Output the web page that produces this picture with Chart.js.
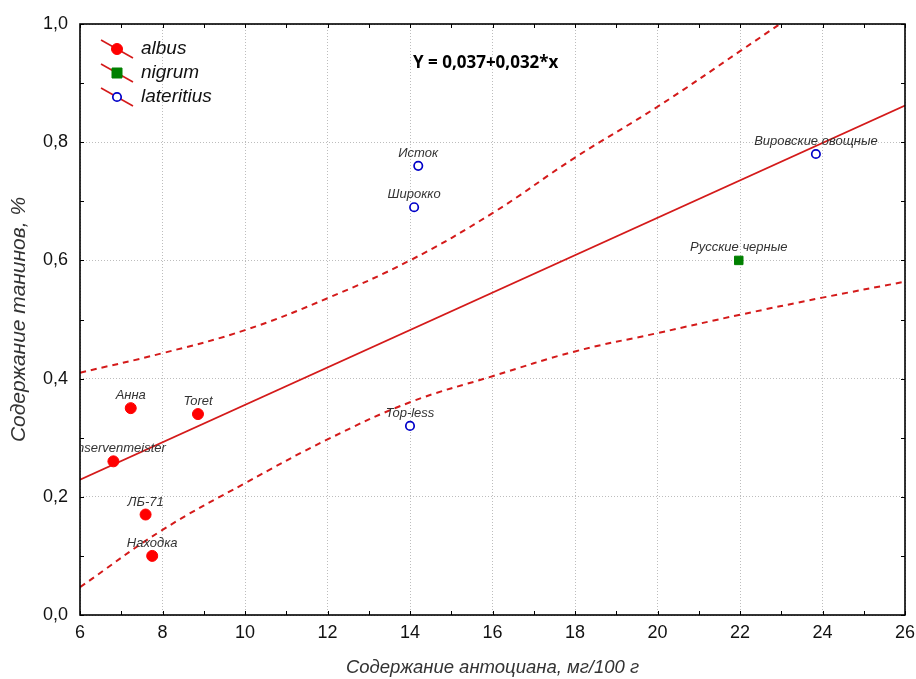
<!DOCTYPE html>
<html lang="ru">
<head>
    <meta charset="UTF-8">
    <title>Танины и антоцианы</title>
    <script src="https://cdn.jsdelivr.net/npm/chart.js"></script>
    <style>
        body {
            margin: 0;
            background: #fff;
        }
        .chart-container {
            width: 916px;
            height: 679px;
        }
    </style>
</head>
<body>

    <div class="chart-container">
        <canvas id="tanninChart"></canvas>
    </div>

    <script>
        // data
        const albusX = [7.23, 8.86, 6.81, 7.59, 7.75];
        const albusY = [0.35, 0.34, 0.26, 0.17, 0.10];
        const albusNames = ["Анна", "Toret", "Konservenmeister", "ЛБ-71", "Находка"];

        const nigrumX = [21.97];
        const nigrumY = [0.60];
        const nigrumNames = ["Русские черные"];

        const lateritiusX = [14.2, 14.1, 14.0, 23.84];
        const lateritiusY = [0.76, 0.69, 0.32, 0.78];
        const lateritiusNames = ["Исток", "Широкко", "Top-less", "Вировские овощные"];

        const fitX = [6, 26];
        const fitY = [0.229, 0.862];

        const bandX = [6, 8, 10, 12, 14, 16, 18, 20, 22, 24, 26];
        const upperY = [0.410, 0.443, 0.482, 0.536, 0.600, 0.680, 0.774, 0.860, 0.954, 1.05, 1.15];
        const lowerY = [0.047, 0.144, 0.223, 0.297, 0.360, 0.404, 0.446, 0.477, 0.508, 0.537, 0.564];

        const xTicks = [6, 8, 10, 12, 14, 16, 18, 20, 22, 24, 26];
        const yTicks = [0.0, 0.2, 0.4, 0.6, 0.8, 1.0];

        const lineRed = "#d41a1a";
        const font = "'Liberation Sans', Arial, sans-serif";

        const pts = (xs, ys) => xs.map((x, i) => ({ x: x, y: ys[i] }));

        // inward ticks, frame, point labels, legend and equation
        const decorPlugin = {
            id: "decor",
            afterDatasetsDraw(chart) {
                const ctx = chart.ctx;
                const a = chart.chartArea;
                const xs = chart.scales.x;
                const ys = chart.scales.y;

                ctx.save();
                ctx.strokeStyle = "#000";
                ctx.lineWidth = 1;
                xs.ticks.forEach(t => {
                    const px = Math.round(xs.getPixelForValue(t.value)) + 0.5;
                    ctx.beginPath();
                    ctx.moveTo(px, a.bottom); ctx.lineTo(px, a.bottom - 4);
                    ctx.moveTo(px, a.top); ctx.lineTo(px, a.top + 4);
                    ctx.stroke();
                });
                ys.ticks.forEach(t => {
                    const py = Math.round(ys.getPixelForValue(t.value)) + 0.5;
                    ctx.beginPath();
                    ctx.moveTo(a.left, py); ctx.lineTo(a.left + 4, py);
                    ctx.moveTo(a.right, py); ctx.lineTo(a.right - 4, py);
                    ctx.stroke();
                });
                ctx.lineWidth = 1.6;
                ctx.strokeRect(a.left, a.top, a.right - a.left, a.bottom - a.top);

                // point labels
                ctx.beginPath();
                ctx.rect(a.left, a.top, a.right - a.left, a.bottom - a.top);
                ctx.clip();
                ctx.font = "italic 13px " + font;
                ctx.fillStyle = "#333";
                ctx.textAlign = "center";
                ctx.textBaseline = "alphabetic";
                chart.data.datasets.forEach((ds, di) => {
                    if (!ds.names) return;
                    chart.getDatasetMeta(di).data.forEach((el, i) => {
                        ctx.fillText(ds.names[i], el.x, el.y - 9);
                    });
                });
                ctx.restore();

                // legend
                ctx.save();
                chart.data.datasets.forEach((ds, di) => {
                    if (!ds.names) return;
                    const cx = a.left + 37;
                    const cy = a.top + 25 + di * 24;
                    ctx.strokeStyle = lineRed;
                    ctx.lineWidth = 1.6;
                    ctx.beginPath();
                    ctx.moveTo(cx - 16, cy - 9);
                    ctx.lineTo(cx + 16, cy + 9);
                    ctx.stroke();
                    ctx.fillStyle = ds.pointBackgroundColor;
                    ctx.strokeStyle = ds.pointBorderColor;
                    ctx.lineWidth = ds.pointBorderWidth;
                    ctx.beginPath();
                    if (ds.pointStyle === "rect") {
                        ctx.rect(cx - 5, cy - 5, 10, 10);
                    } else {
                        ctx.arc(cx, cy, ds.pointRadius, 0, Math.PI * 2);
                    }
                    ctx.fill();
                    ctx.stroke();
                    ctx.fillStyle = "#111";
                    ctx.font = "italic 19px " + font;
                    ctx.textAlign = "left";
                    ctx.textBaseline = "middle";
                    ctx.fillText(ds.label, a.left + 61, cy);
                });

                ctx.fillStyle = "#000";
                ctx.font = "bold 17px 'Open Sans', sans-serif";
                ctx.textAlign = "left";
                ctx.textBaseline = "middle";
                ctx.fillText("Y = 0,037+0,032*x", a.left + 333, a.top + 39);
                ctx.restore();
            }
        };

        new Chart(document.getElementById("tanninChart"), {
            type: "scatter",
            data: {
                datasets: [{
                    label: "albus",
                    names: albusNames,
                    data: pts(albusX, albusY),
                    pointStyle: "circle",
                    pointRadius: 5.5,
                    pointBackgroundColor: "#ff0000",
                    pointBorderColor: "#ff0000",
                    pointBorderWidth: 1
                }, {
                    label: "nigrum",
                    names: nigrumNames,
                    data: pts(nigrumX, nigrumY),
                    pointStyle: "rect",
                    pointRadius: 6,
                    pointBackgroundColor: "#008000",
                    pointBorderColor: "#008000",
                    pointBorderWidth: 1
                }, {
                    label: "lateritius",
                    names: lateritiusNames,
                    data: pts(lateritiusX, lateritiusY),
                    pointStyle: "circle",
                    pointRadius: 4.2,
                    pointBackgroundColor: "#ffffff",
                    pointBorderColor: "#0000c8",
                    pointBorderWidth: 1.7
                }, {
                    label: "fit",
                    type: "line",
                    data: pts(fitX, fitY),
                    borderColor: lineRed,
                    borderWidth: 1.7,
                    pointRadius: 0
                }, {
                    label: "upper",
                    type: "line",
                    data: pts(bandX, upperY),
                    borderColor: lineRed,
                    borderWidth: 2,
                    borderDash: [6, 5],
                    tension: 0.4,
                    pointRadius: 0
                }, {
                    label: "lower",
                    type: "line",
                    data: pts(bandX, lowerY),
                    borderColor: lineRed,
                    borderWidth: 2,
                    borderDash: [6, 5],
                    tension: 0.4,
                    pointRadius: 0
                }]
            },
            options: {
                responsive: true,
                maintainAspectRatio: false,
                animation: false,
                layout: {
                    padding: { top: 24, right: 11, left: 0, bottom: 0 }
                },
                plugins: {
                    legend: { display: false },
                    tooltip: { enabled: false }
                },
                scales: {
                    x: {
                        type: "linear",
                        min: 6,
                        max: 26,
                        afterFit: s => { s.height = 64; s.paddingLeft = 0; s.paddingRight = 0; },
                        border: { display: false, dash: [1, 2] },
                        grid: {
                            drawTicks: false,
                            color: c => (Math.round(c.tick.value) % 2 === 0 ? "#bdbdbd" : "rgba(0,0,0,0)")
                        },
                        ticks: {
                            stepSize: 1,
                            padding: 7,
                            color: "#111",
                            font: { size: 18, family: font },
                            callback: v => (xTicks.includes(v) ? String(v) : "")
                        },
                        title: {
                            display: true,
                            text: "Содержание антоциана, мг/100 г",
                            color: "#333",
                            padding: { top: 0, bottom: 0 },
                            font: { size: 18.5, style: "italic", family: font }
                        }
                    },
                    y: {
                        min: 0,
                        max: 1,
                        afterFit: s => { s.width = 80; s.paddingTop = 0; s.paddingBottom = 0; },
                        border: { display: false, dash: [1, 2] },
                        grid: {
                            drawTicks: false,
                            color: c => (Math.round(c.tick.value * 10) % 2 === 0 ? "#bdbdbd" : "rgba(0,0,0,0)")
                        },
                        ticks: {
                            stepSize: 0.1,
                            padding: 12,
                            color: "#111",
                            font: { size: 18, family: font },
                            callback: v => {
                                const r = Math.round(v * 10) / 10;
                                return yTicks.some(t => Math.abs(t - r) < 1e-6) ? r.toFixed(1).replace(".", ",") : "";
                            }
                        },
                        title: {
                            display: true,
                            text: "Содержание танинов, %",
                            color: "#333",
                            padding: { top: 7, bottom: 0 },
                            font: { size: 21, style: "italic", family: font }
                        }
                    }
                }
            },
            plugins: [decorPlugin]
        });
    </script>

</body>
</html>
